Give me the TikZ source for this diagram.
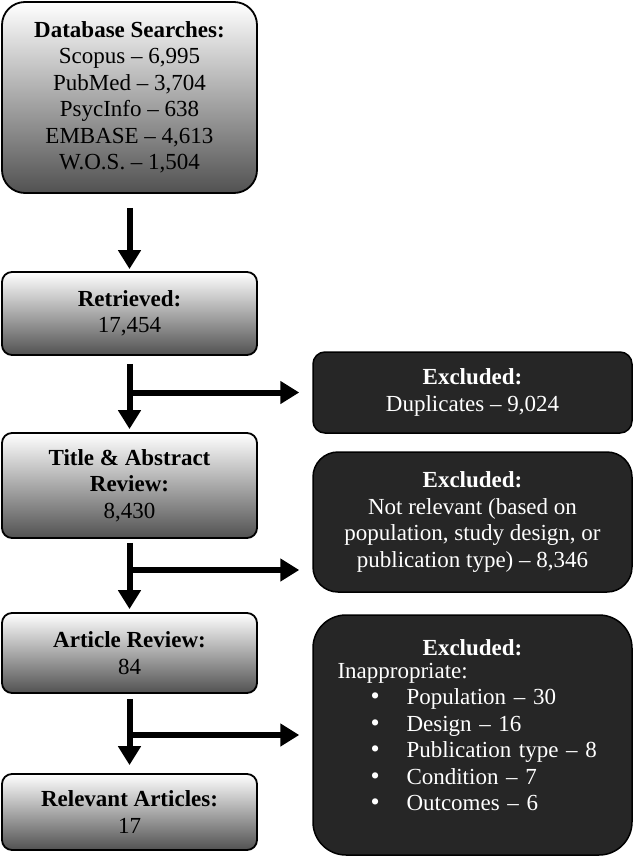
\documentclass[tikz,border=0pt]{standalone}
\usepackage{fontspec}
\setmainfont{Liberation Serif}
\usetikzlibrary{arrows.meta}

\tikzset{
  stage/.style={draw=black, line width=1.8pt, rounded corners=10pt,
    top color=white, middle color=black!20, bottom color=black!68,
    minimum width=255pt, align=center, text=black,
    font=\fontsize{23}{26.5}\selectfont},
  excl/.style={draw=black, line width=1.5pt, rounded corners=12pt,
    fill=black!85, text=white, minimum width=319pt, align=center,
    font=\fontsize{23}{26.5}\selectfont},
  flow/.style={line width=6pt, -{Triangle[width=22pt,length=19pt]}},
}
\newcommand{\bulletitem}[1]{\hspace*{33pt}\makebox[36pt][l]{\fontsize{26}{26}\selectfont\textbullet}#1}

\begin{document}
\begin{tikzpicture}[x=1pt,y=-1pt]
\useasboundingbox (0,0) rectangle (633,857);
%left column
\node[stage, rounded corners=23pt, minimum height=191pt] (search) at (129.5,97.5)
  {\textbf{Database Searches:}\\Scopus -- 6,995\\PubMed -- 3,704\\PsycInfo -- 638\\EMBASE -- 4,613\\W.O.S. -- 1,504};
\node[stage, minimum height=83pt] (retr) at (129.5,313.5) {\textbf{Retrieved:}\\17,454};
\node[stage, minimum height=105pt] (title) at (129.5,485.5) {\textbf{Title \& Abstract}\\\textbf{Review:}\\8,430};
\node[stage, minimum height=80pt] (article) at (129.5,653) {\textbf{Article Review:}\\84};
\node[stage, minimum height=76pt] (relev) at (129.5,812) {\textbf{Relevant Articles:}\\17};
%right column
\node[excl, minimum height=81pt] (dup) at (472.5,392.5) {\textbf{Excluded:}\\Duplicates -- 9,024};
\node[excl, rounded corners=25pt, minimum height=140pt] (notrel) at (472.5,522)
  {\textbf{Excluded:}\\Not relevant (based on\\population, study design, or\\publication type) -- 8,346};
\node[excl, rounded corners=33pt, minimum height=240pt, text width=270pt, align=left] (inapp) at (472.5,735)
  {\centerline{\textbf{Excluded:}}\\[-4pt]
   Inappropriate:\\
   \bulletitem{Population -- 30}\\
   \bulletitem{Design -- 16}\\
   \bulletitem{Publication type -- 8}\\
   \bulletitem{Condition -- 7}\\
   \bulletitem{Outcomes -- 6}\rule[-19pt]{0pt}{19pt}};
%arrows
\coordinate (split2) at (129.5,570);
\draw[flow, shorten <=14pt, shorten >=2pt] (search) -- (retr);
\draw[flow, shorten <=8pt, shorten >=3pt] (retr) -- (title);
\draw[flow, shorten <=4pt, shorten >=3pt] (title) -- (article);
\draw[flow, shorten <=5pt, shorten >=8pt] (article) -- (relev);
\draw[flow, shorten >=13pt] (retr.south |- dup.west) -- (dup.west);
\draw[flow, shorten >=13pt] (split2) -- (split2 -| notrel.west);
\draw[flow, shorten >=13pt] (article.south |- inapp.west) -- (inapp.west);
\end{tikzpicture}
\end{document}
